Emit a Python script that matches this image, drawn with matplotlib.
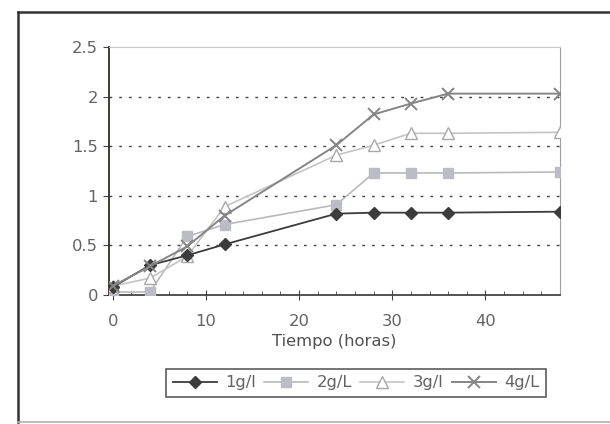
import matplotlib
matplotlib.use("Agg")
import matplotlib.pyplot as plt
from matplotlib.lines import Line2D
from matplotlib.ticker import MultipleLocator

# ── Data ──────────────────────────────────────────────────────────────────────
horas = [0, 4, 8, 12, 24, 28, 32, 36, 48]
s_1g = [0.08, 0.30, 0.40, 0.51, 0.82, 0.83, 0.83, 0.83, 0.84]
s_2g = [0.03, 0.03, 0.59, 0.71, 0.91, 1.23, 1.23, 1.23, 1.24]
s_3g = [0.09, 0.17, 0.39, 0.89, 1.41, 1.51, 1.63, 1.63, 1.64]
s_4g = [0.09, 0.29, 0.49, 0.80, 1.51, 1.82, 1.93, 2.03, 2.03]
labels = ["1g/l", "2g/L", "3g/l", "4g/L"]

plt.rcParams["font.family"] = ["DejaVu Sans"]
TXT = "#636363"
FS = 11.8

W, H = 610, 424
fig = plt.figure(figsize=(W / 100, H / 100), dpi=100)
ax = fig.add_axes([109 / W, 1 - 295 / H, (560 - 109) / W, (295 - 47) / H])

# outer chart frame (left/top dark, bottom light grey; right edge off the scan)
fig.lines.append(Line2D([18 / W, 18 / W], [1 - 422 / H, 1 - 12 / H],
                        transform=fig.transFigure, color="#333333", lw=1.8))
fig.lines.append(Line2D([18 / W, 1.0], [1 - 12 / H, 1 - 12 / H],
                        transform=fig.transFigure, color="#333333", lw=1.8))
fig.lines.append(Line2D([18 / W, 1.0], [1 - 422 / H, 1 - 422 / H],
                        transform=fig.transFigure, color="#b0b0b0", lw=1.2))

ax.plot(horas, s_1g, color="#3c3c3c", lw=1.3, marker="D", ms=6,
        mfc="#3c3c3c", mec="#3c3c3c", label=labels[0], zorder=5)
ax.plot(horas, s_2g, color="#b8b8c0", lw=1.2, marker="s", ms=7,
        mfc="#bcbcc4", mec="#bcbcc4", label=labels[1], zorder=4)
ax.plot(horas, s_3g, color="#c4c4c4", lw=1.2, marker="^", ms=8,
        mfc="white", mec="#a8a8a8", label=labels[2], zorder=4)
ax.plot(horas, s_4g, color="#858585", lw=1.4, marker="x", ms=9, mew=1.4,
        mec="#858585", label=labels[3], zorder=6)

ax.set_xlim(-0.4, 48)
ax.set_ylim(0, 2.5)
ax.xaxis.set_major_locator(MultipleLocator(10))
ax.xaxis.set_minor_locator(MultipleLocator(2))
ax.set_yticks([0, 0.5, 1, 1.5, 2, 2.5], ["0", "0.5", "1", "1.5", "2", "2.5"])

for y in [0.5, 1, 1.5, 2]:
    ax.axhline(y, color="#444444", lw=1.0, ls=(0, (2, 5)), zorder=1)

ax.spines["left"].set_color("#3a2a2a")
ax.spines["left"].set_linewidth(1.3)
ax.spines["bottom"].set_color("#444444")
ax.spines["bottom"].set_linewidth(1.3)
ax.spines["top"].set_color("#c8c8c8")
ax.spines["right"].set_color("#a0a0a0")

ax.tick_params(axis="x", which="major", direction="inout", length=7,
               colors="#444444", labelcolor=TXT, labelsize=FS, pad=10)
ax.tick_params(axis="x", which="minor", direction="in", length=3,
               colors="#444444")
ax.tick_params(axis="y", direction="out", length=4, colors="#444444",
               labelcolor=TXT, labelsize=FS, pad=4)

ax.set_xlabel("Tiempo (horas)", color="#505050", fontsize=FS, labelpad=4)

leg = fig.legend(loc="center", bbox_to_anchor=(356 / W, 1 - 383 / H),
                 ncol=4, frameon=True, fancybox=False, fontsize=FS,
                 handlelength=2.7, handletextpad=0.5, columnspacing=0.5,
                 borderpad=0.4, labelcolor=TXT)
leg.get_frame().set_edgecolor("#333333")
leg.get_frame().set_linewidth(1.2)

fig.savefig("out.png", dpi=100)
